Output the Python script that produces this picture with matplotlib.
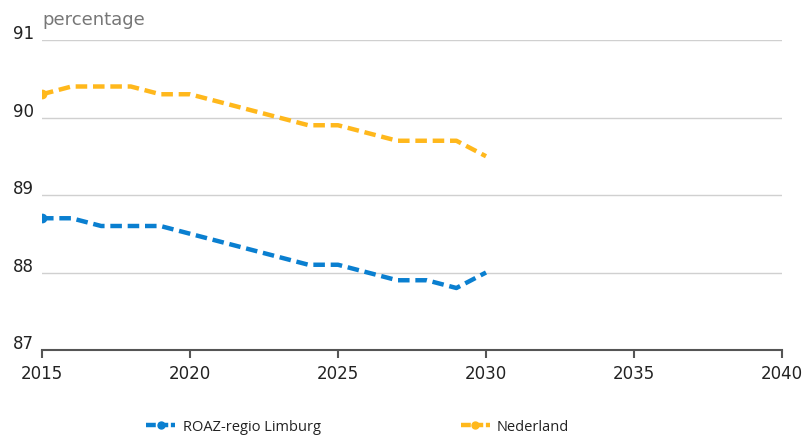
import matplotlib
matplotlib.use("Agg")
import matplotlib.pyplot as plt
import matplotlib.transforms as mtransforms
from matplotlib.lines import Line2D

plt.rcParams['font.family'] = ['DejaVu Sans']

years = list(range(2015, 2031))
roaz = [88.7, 88.7, 88.6, 88.6, 88.6, 88.5, 88.4, 88.3, 88.2, 88.1, 88.1, 88.0, 87.9, 87.9, 87.8, 88.0]
nederland = [90.3, 90.4, 90.4, 90.4, 90.3, 90.3, 90.2, 90.1, 90.0, 89.9, 89.9, 89.8, 89.7, 89.7, 89.7, 89.5]
series_names = ["ROAZ-regio Limburg", "Nederland"]
x_ticks = [2015, 2020, 2025, 2030, 2035, 2040]
y_ticks = [87, 88, 89, 90, 91]

blue = "#0a7fd0"
orange = "#ffb81c"

fig = plt.figure(figsize=(8.05, 4.36), dpi=100)
ax = fig.add_axes([42/805, 1-350/436, (782-42)/805, 310/436])

dash = (2.6, 1.3)
for vals, col in [(roaz, blue), (nederland, orange)]:
    ax.plot(years, vals, color=col, lw=3.2, dashes=dash, solid_capstyle="butt", dash_capstyle="butt")
    ax.plot(years[:1], vals[:1], 'o', color=col, ms=6, mec=col)

ax.set_xlim(2015, 2040)
ax.set_ylim(87, 91)
ax.set_xticks(x_ticks)
ax.set_yticks(y_ticks)
ax.yaxis.grid(True, color="#d0d0d0", lw=1)
ax.set_axisbelow(True)
for s in ["top", "right", "left"]:
    ax.spines[s].set_visible(False)
ax.spines["bottom"].set_color("#555555")
ax.spines["bottom"].set_linewidth(1.5)
ax.tick_params(axis="y", length=0, labelsize=12, colors="#222222", pad=6)
ax.tick_params(axis="x", length=6, width=1.5, color="#555555", labelsize=12, labelcolor="#222222", pad=5)
offset = mtransforms.ScaledTranslation(0, 4/72, fig.dpi_scale_trans)
for lab in ax.get_yticklabels():
    lab.set_verticalalignment("center")
    lab.set_transform(lab.get_transform() + offset)

fig.text(42/805, 1-20/436, "percentage", fontsize=13, color="#777777", va="center", ha="left")

handles = [Line2D([0], [0], color=c, lw=3.2, dashes=(2.2, 0.6), marker='o', ms=5, mec=c)
           for c in [blue, orange]]
leg = fig.legend(handles, series_names, loc="center left", bbox_to_anchor=(133/805, 1-427/436),
                 ncol=2, frameon=False, handlelength=2.0, columnspacing=9.6, handletextpad=0.5,
                 prop={"family": "Open Sans", "size": 10.5}, numpoints=1)
for t in leg.get_texts():
    t.set_color("#222222")

fig.savefig("out.png", dpi=100)
